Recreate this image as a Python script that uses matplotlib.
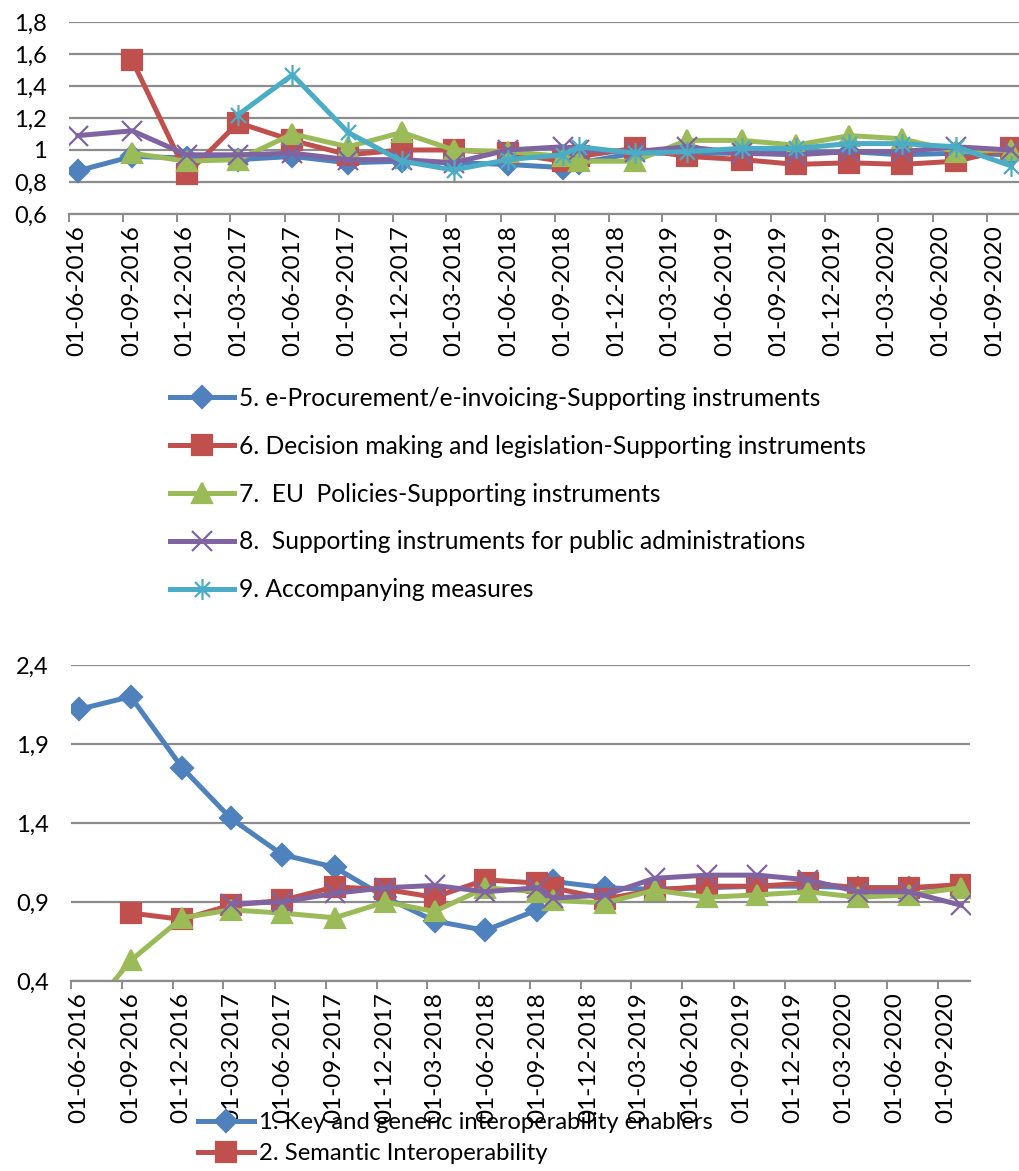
import matplotlib
matplotlib.use('Agg')
import matplotlib.pyplot as plt
import matplotlib.transforms as mtransforms
from matplotlib.path import Path
from matplotlib.ticker import FuncFormatter
import numpy as np
import pandas as pd

plt.rcParams['font.family'] = ['Lato', 'DejaVu Sans']

nan = np.nan

# observation dates (same for every series, both charts)
dates = ['2016-06-16', '2016-09-16', '2016-12-17', '2017-03-14', '2017-06-14',
         '2017-09-16', '2017-12-16', '2018-03-14', '2018-06-13', '2018-09-14',
         '2018-10-12', '2019-01-14', '2019-04-12', '2019-07-15', '2019-10-13',
         '2020-01-12', '2020-04-10', '2020-07-10', '2020-10-12']
tick_dates = pd.date_range('2016-06-01', '2020-09-01', freq='3MS')

# top chart
top_labels = ['5. e-Procurement/e-invoicing-Supporting instruments',
              '6. Decision making and legislation-Supporting instruments',
              '7.  EU  Policies-Supporting instruments',
              '8.  Supporting instruments for public administrations',
              '9. Accompanying measures']
top_eproc = [0.87, 0.96, 0.95, 0.94, 0.96, 0.92, 0.93, 0.92, 0.91, 0.89,
             0.92, 0.98, 0.98, 0.98, 0.98, 0.99, 0.97, 0.98, 0.97]
top_decision = [nan, 1.56, 0.85, 1.17, 1.06, 0.97, 1.00, 1.00, 0.98, 0.93,
                0.96, 1.01, 0.96, 0.94, 0.91, 0.92, 0.91, 0.93, 1.01]
top_policies = [nan, 0.98, 0.93, 0.94, 1.10, 1.02, 1.11, 1.00, 0.99, 0.96,
                0.93, 0.93, 1.06, 1.06, 1.03, 1.09, 1.07, 0.99, 1.00]
top_public = [1.09, 1.12, 0.97, 0.97, 0.98, 0.94, 0.94, 0.92, 1.00, 1.02,
              1.00, 0.99, 1.02, 0.98, 0.97, 0.99, 0.99, 1.02, 1.00]
top_accomp = [nan, nan, nan, 1.22, 1.47, 1.11, 0.93, 0.875, 0.94, 0.97,
              1.02, 0.98, 0.99, 1.01, 1.01, 1.04, 1.04, 1.02, 0.90]

# bottom chart (legend rows 3 and 4 fall below the cropped picture)
bottom_labels = ['1. Key and generic interoperability enablers',
                 '2. Semantic Interoperability',
                 '3. Access the data / Data sharing / Open data',
                 '4. Geospatial solutions']
bot_key = [2.12, 2.20, 1.75, 1.43, 1.20, 1.12, 0.93, 0.78, 0.72, 0.85,
           1.03, 0.99, 0.98, 0.99, 1.00, 1.00, 0.99, 0.99, 1.00]
bot_semantic = [nan, 0.83, 0.79, 0.88, 0.91, 0.995, 0.98, 0.93, 1.04, 1.02,
                0.99, 0.92, 0.975, 1.00, 1.00, 1.02, 0.99, 0.99, 1.01]
bot_access = [0.13, 0.53, 0.80, 0.85, 0.83, 0.80, 0.90, 0.84, 0.99, 0.965,
              0.91, 0.895, 0.975, 0.93, 0.945, 0.965, 0.93, 0.945, 0.99]
bot_geo = [nan, nan, nan, 0.89, 0.90, 0.955, 0.99, 1.005, 0.965, 0.99,
           0.925, 0.945, 1.05, 1.07, 1.07, 1.04, 0.965, 0.965, 0.88]

colors = ['#4F81BD', '#C0504D', '#9BBB59', '#8064A2', '#4BACC6']
asterisk = Path([(0, -1), (0, 1), (-0.72, -0.72), (0.72, 0.72), (-0.72, 0.72), (0.72, -0.72)],
                [Path.MOVETO, Path.LINETO] * 3)
markers = ['D', 's', '^', 'x', asterisk]
msizes = [11, 14, 14, 14, 15]

W, H = 1020, 1171
fig = plt.figure(figsize=(W / 100, H / 100), dpi=100)


def px_axes(left, top, right, bottom):
    return fig.add_axes([left / W, 1 - bottom / H, (right - left) / W, (bottom - top) / H])


def comma(v, pos):
    return f"{round(v, 2):g}".replace('.', ',')


def style(ax, yticks, xmax):
    ax.set_xlim(pd.Timestamp('2016-06-01'), pd.Timestamp(xmax))
    ax.set_ylim(yticks[0], yticks[-1])
    ax.set_yticks(yticks)
    ax.yaxis.set_major_formatter(FuncFormatter(comma))
    ax.set_xticks(tick_dates)
    ax.set_xticklabels([d.strftime('%d-%m-%Y') for d in tick_dates], rotation=90)
    ax.grid(axis='y', color='#8c8c8c', lw=1.6)
    ax.set_axisbelow(True)
    for s in ['left', 'right', 'top']:
        ax.spines[s].set_visible(False)
    ax.spines['bottom'].set_color('#8c8c8c')
    ax.spines['bottom'].set_linewidth(1.6)
    ax.tick_params(axis='y', length=0, pad=16, labelsize=17)
    ax.tick_params(axis='x', length=6, width=1.4, color='#8c8c8c', pad=2, labelsize=17.5)
    off = mtransforms.ScaledTranslation(0.08, 0, fig.dpi_scale_trans)
    for lab in ax.get_xticklabels():
        lab.set_transform(lab.get_transform() + off)


def draw(ax, series, labels):
    x = pd.to_datetime(dates)
    lines = []
    for i, (vals, lab) in enumerate(zip(series, labels)):
        c = colors[i]
        ln, = ax.plot(x, vals, color=c, lw=3.6, marker=markers[i], ms=msizes[i],
                      mfc=c, mec=c, mew=1.6, label=lab)
        lines.append(ln)
    return lines


ax1 = px_axes(69, 22, 1041, 214)
draw(ax1, [top_eproc, top_decision, top_policies, top_public, top_accomp], top_labels)
style(ax1, [0.6, 0.8, 1.0, 1.2, 1.4, 1.6, 1.8], '2020-12-01')
ax1.legend(loc='upper left', bbox_to_anchor=(170 / W, 1 - 387 / H), bbox_transform=fig.transFigure,
           frameon=False, fontsize=17.7, handlelength=2.6, handletextpad=0.2,
           labelspacing=1.01, borderpad=0, borderaxespad=0)

ax2 = px_axes(71, 665, 970, 981)
lines2 = draw(ax2, [bot_key, bot_semantic, bot_access, bot_geo], bottom_labels)
style(ax2, [0.4, 0.9, 1.4, 1.9, 2.4], '2020-10-28')
# only the first two legend rows are visible in the picture
ax2.legend(handles=lines2[:2], loc='upper left', bbox_to_anchor=(198 / W, 1 - 1112 / H),
           bbox_transform=fig.transFigure, frameon=False, fontsize=17.2, handlelength=2.35,
           handletextpad=0.2, labelspacing=0.42, borderpad=0, borderaxespad=0)

fig.savefig('out.png', dpi=100)
